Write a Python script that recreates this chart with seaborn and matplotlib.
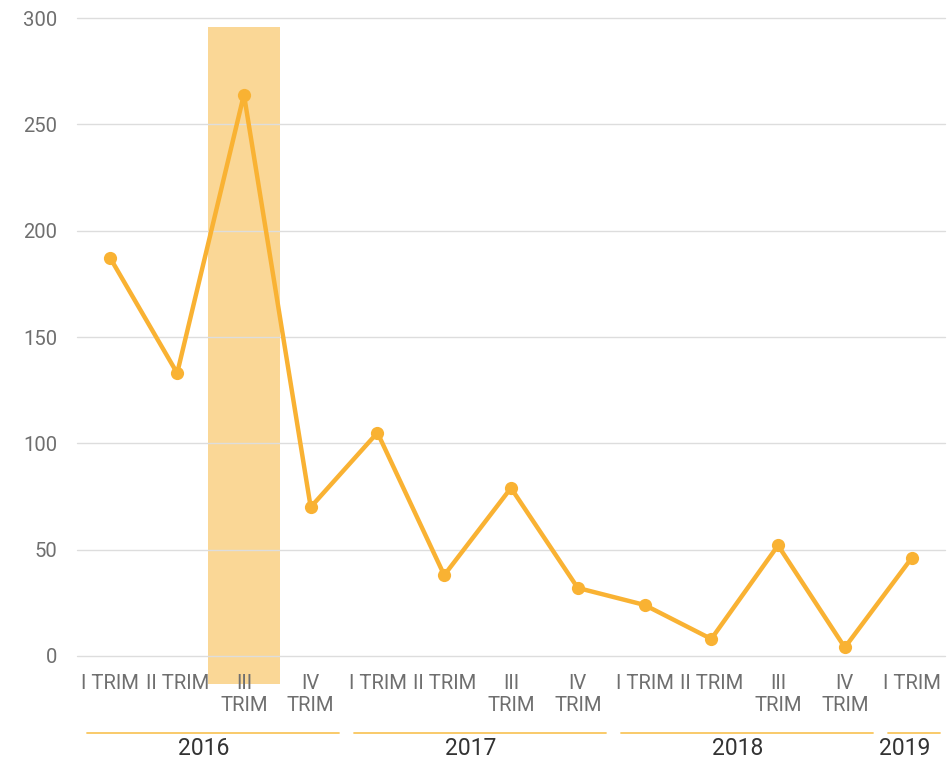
import numpy as np
import pandas as pd
import seaborn as sns
import matplotlib.pyplot as plt
from matplotlib.patches import Rectangle

# data
years = ['2016', '2016', '2016', '2016',
         '2017', '2017', '2017', '2017',
         '2018', '2018', '2018', '2018',
         '2019']
quarters = ['I TRIM', 'II TRIM', 'III\nTRIM', 'IV\nTRIM',
            'I TRIM', 'II TRIM', 'III\nTRIM', 'IV\nTRIM',
            'I TRIM', 'II TRIM', 'III\nTRIM', 'IV\nTRIM',
            'I TRIM']
values = [187, 133, 264, 70, 105, 38, 79, 32, 24, 8, 52, 4, 46]
highlight = 2  # III TRIM 2016

line_col = '#F9B233'
band_col = '#FAD796'
year_col = '#F9C65E'
text_col = '#6f6f6f'

sns.set_theme(style='white')
plt.rcParams['font.family'] = ['Roboto', 'DejaVu Sans']

df = pd.DataFrame({'pos': np.arange(len(values)), 'value': values,
                   'quarter': quarters, 'year': years})

fig = plt.figure(figsize=(9.52, 7.64), dpi=100)
ax = fig.add_axes([0.0809, 0.1414, 0.9117, 0.835])

# highlighted quarter band, kept under grid and tick labels
ax.add_patch(Rectangle((highlight - 0.54, -13), 1.08, 309, color=band_col,
                       lw=0, zorder=0.2, clip_on=False))

sns.lineplot(data=df, x='pos', y='value', ax=ax, color=line_col, lw=3.2,
             marker='o', markersize=9.5, markeredgewidth=0, zorder=3)

ax.set_xlim(-0.5, len(values) - 0.5)
ax.set_ylim(0, 300)
ax.set_yticks([0, 50, 100, 150, 200, 250, 300])
ax.set_xticks(df.pos)
ax.set_xticklabels(df.quarter, multialignment='center', linespacing=1.2)
ax.tick_params(axis='x', length=0, pad=13, labelsize=14.6, colors=text_col)
ax.tick_params(axis='y', length=0, pad=14, labelsize=14.6, colors=text_col)
ax.grid(axis='y', color='#dddddd', lw=1)
for gl in ax.get_ygridlines():
    gl.set_clip_on(False)
ax.set_axisbelow(True)
ax.set_xlabel('')
ax.set_ylabel('')
sns.despine(ax=ax, left=True, bottom=True, top=True, right=True)

# year groups under the quarter labels
trans = ax.get_xaxis_transform()
for yr, grp in df.groupby('year'):
    x0, x1 = grp.pos.min(), grp.pos.max()
    ax.plot([x0 - 0.35, x1 + 0.42], [-0.121, -0.121], color=year_col, lw=1.3,
            transform=trans, clip_on=False)
    ax.text(grp.pos.mean() - 0.1, -0.145, yr, transform=trans, ha='center',
            va='center', fontsize=16.5, color='#333333')

fig.savefig('out.png', dpi=100)
